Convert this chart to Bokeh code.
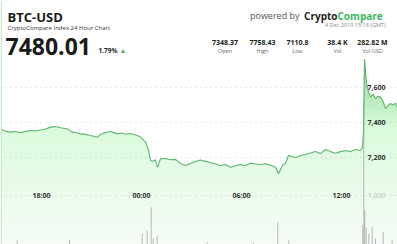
import numpy as np
from bokeh.plotting import figure
from bokeh.models import Range1d, Label, FixedTicker, Grid, BoxAnnotation
from bokeh.core.properties import value
from bokeh.embed import file_html
from bokeh.resources import INLINE

# ---- data (hours relative to 4 Dec 2019 00:00 GMT) ----
hours = [-8.46, -8.16, -7.86, -7.56, -7.26, -6.96, -6.66, -6.36, -6.06, -5.76, -5.46, -5.16,
         -4.86, -4.46, -4.16, -3.91, -3.66, -3.36, -3.06, -2.66, -2.46, -2.26, -1.86,
         -1.66, -1.46, -1.21, -0.96, -0.71, -0.46, -0.26, -0.06, 0.24, 0.42,
         0.54, 0.66, 0.84, 0.96, 1.14, 1.44, 1.74, 2.04, 2.34, 2.64, 2.94, 3.24, 3.54,
         3.84, 4.14, 4.44, 4.74, 5.04, 5.34, 5.64, 5.94, 6.24, 6.54, 6.84, 7.14, 7.44,
         7.74, 8.04, 8.22, 8.46, 8.64, 8.82, 9.04, 9.24, 9.54, 9.84, 10.14, 10.44, 10.74,
         11.04, 11.34, 11.64, 11.94, 12.24, 12.54, 12.84, 13.14, 13.26, 13.32, 13.38,
         13.5, 13.62, 13.74, 13.89, 14.04, 14.19, 14.34, 14.49, 14.64, 14.79, 14.94,
         15.09, 15.24, 15.36]
prices = [7365, 7351, 7346, 7349, 7342, 7350, 7355, 7352, 7358, 7363, 7374, 7377,
          7370, 7365, 7346, 7342, 7336, 7333, 7327, 7317, 7332, 7340, 7349,
          7343, 7336, 7341, 7334, 7338, 7332, 7327, 7318, 7289, 7245,
          7186, 7180, 7190, 7148, 7196, 7197, 7190, 7192, 7169, 7158, 7170, 7180, 7189,
          7181, 7175, 7166, 7158, 7163, 7148, 7156, 7163, 7158, 7171, 7166, 7163, 7168,
          7159, 7148, 7111, 7158, 7170, 7214, 7207, 7203, 7214, 7220, 7228, 7237, 7225,
          7248, 7236, 7227, 7236, 7242, 7236, 7248, 7242, 7259, 7355, 7758,
          7620, 7575, 7543, 7560, 7535, 7548, 7543, 7520, 7479, 7495, 7507,
          7498, 7509, 7480]

vol_hours = [-7.46, -4.32, 0.04, 0.34, 0.58, 0.70, 0.94, 3.94, 6.72, 8.18, 8.84,
             13.28, 13.34, 13.40, 13.48, 13.64, 13.84, 14.04, 14.50, 15.04]
volumes = [82, 102, 224, 286, 761, 122, 184, 47, 47, 455, 82,
           400, 2940, 700, 353, 224, 353, 122, 251, 82]

price_ticks = [7200, 7400, 7600]
price_tick_labels = ["7,200", "7,400", "7,600"]
vol_ticks = [1000]
vol_tick_labels = ["1,000"]
time_ticks = [-6, 0, 6, 12]
time_tick_labels = ["18:00", "00:00", "06:00", "12:00"]

pair = "BTC-USD"
subtitle = "CryptoCompare Index 24 Hour Chart"
last_price = "7480.01"
change = "1.79%"
timestamp = "4 Dec 2019 15:18 (GMT)"
stat_values = ["7348.37", "7758.43", "7110.8", "38.4 K", "282.82 M"]
stat_labels = ["Open", "High", "Low", "Vol", "Vol USD"]

# ---- figure ----
W, H = 397, 244
FONT = "Open Sans"
GREEN = "#5bb56e"

p = figure(width=W, height=H, x_range=Range1d(-8.46, 15.36), y_range=Range1d(6712.6, 8087.4),
           x_axis_location=None, y_axis_location=None, toolbar_location=None,
           output_backend="svg", min_border=0, outline_line_color=None,
           background_fill_color="white", border_fill_color="white")
p.extra_y_ranges = {"vol": Range1d(0, 4980)}
for g in p.grid:
    g.visible = False

p.add_layout(Grid(dimension=1, ticker=FixedTicker(ticks=price_ticks),
                  grid_line_color="#d4d4d4", grid_line_dash="1 4", grid_line_width=1))
p.add_layout(Grid(dimension=1, ticker=FixedTicker(ticks=vol_ticks), y_range_name="vol",
                  grid_line_color="#d4d4d4", grid_line_dash="1 4", grid_line_width=1))

# gradient-like fill under the price line
x = np.array(hours)
yv = np.array(prices)
y0 = p.y_range.start
levels = np.linspace(y0, max(prices), 45)
target = np.interp(levels, [y0, 7360, 7720], [0.05, 0.17, 0.55])
prev = 0.0
for L, t in zip(levels, target):
    a = 1 - (1 - t) / (1 - prev)
    prev = t
    p.varea(x=x, y1=L, y2=np.maximum(yv, L), fill_color="#4cb463", fill_alpha=float(a))

p.vbar(x=vol_hours, top=volumes, width=0.05, bottom=0, y_range_name="vol",
       fill_color="#8a8a8a", line_color=None, fill_alpha=0.7)

p.line(x=hours, y=prices, line_color=GREEN, line_width=1.1)

# axis labels drawn inside the plot
xe = p.x_range.end
p.text(x=[xe] * len(price_ticks), y=price_ticks, text=price_tick_labels, x_offset=-12,
       text_align="right", text_baseline="middle", text_font=value(FONT),
       text_font_size="7px", text_font_style="bold", text_color="#333333")
p.text(x=[xe], y=vol_ticks, text=vol_tick_labels, x_offset=-12, y_range_name="vol",
       text_align="right", text_baseline="middle", text_font=value(FONT),
       text_font_size="7px", text_color="#bbbbbb")
p.text(x=time_ticks, y=[vol_ticks[0]] * len(time_ticks), text=time_tick_labels, y_range_name="vol",
       text_align="center", text_baseline="middle", text_font=value(FONT),
       text_font_size="7px", text_font_style="bold", text_color="#333333")

p.add_layout(BoxAnnotation(left=0, right=1.5, left_units="screen", right_units="screen",
                           fill_color="#cdeacf", fill_alpha=1, line_color=None, level="overlay"))

def lab(xs, ys, text, size, color="#222222", style="normal", align="left"):
    p.add_layout(Label(x=xs, y=H - ys, x_units="screen", y_units="screen", text=text,
                       text_font=FONT, text_font_size=size, text_color=color,
                       text_font_style=style, text_align=align, text_baseline="middle"))

lab(7, 16.5, pair, "13px", "#1a1a1a", "bold")
lab(7, 27, subtitle, "6px", "#333333")
lab(5, 45.5, last_price, "23px", "#1a1a1a", "bold")
lab(98, 50, change, "6.5px", "#222222", "bold")
lab(119, 50, "▲", "7px", "#4cb463")

lab(299, 15, "powered by", "9px", "#555555", "normal", "right")
lab(337, 15, "Crypto", "10px", "#222222", "bold", "right")
lab(337, 15, "Compare", "10px", "#3fb65c", "bold", "left")
lab(385, 24.5, timestamp, "5.5px", "#888888", "normal", "right")

centers = [224.5, 262, 297, 337, 372]
for cx, v, l in zip(centers, stat_values, stat_labels):
    lab(cx, 41.5, v, "7px", "#222222", "bold", "center")
    lab(cx, 50, l, "5.5px", "#666666", "normal", "center")

open("out.html", "w").write(file_html(p, INLINE))
